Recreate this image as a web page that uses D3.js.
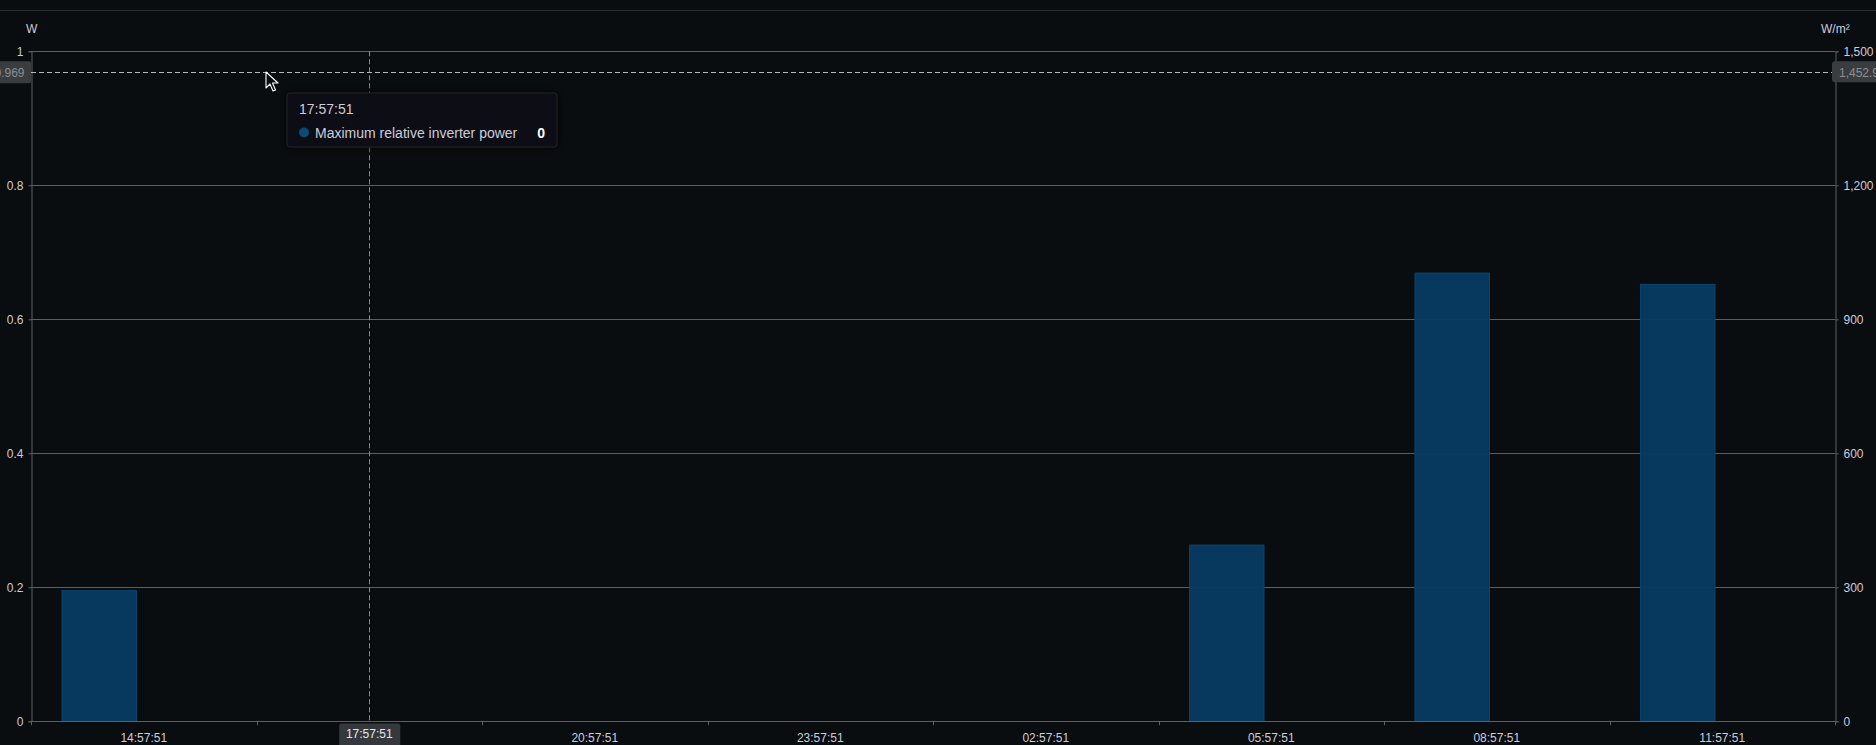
<!DOCTYPE html>
<html>
<head>
<meta charset="utf-8">
<script src="https://cdn.jsdelivr.net/npm/d3@7"></script>
<style>
  html, body { margin: 0; padding: 0; background: #0a0d10; overflow: hidden; }
  svg { display: block; font-family: "Liberation Sans", Arial, Helvetica, sans-serif; }
</style>
</head>
<body>
<svg id="chart" width="1876" height="745"></svg>
<script>
// ---- data ----
const categories = ["14:57:51","17:57:51","20:57:51","23:57:51","02:57:51","05:57:51","08:57:51","11:57:51"];
const seriesNames = ["Maximum relative inverter power", "Irradiance"];
const inverterPower = [0.195, 0, 0, 0, 0, 0.263, 0.669, 0.652];
const leftTicks = [0, 0.2, 0.4, 0.6, 0.8, 1];
const rightTicks = [0, 300, 600, 900, 1200, 1500];
const leftUnit = "W";
const rightUnit = "W/m²";
const hoverCategory = "17:57:51";
const hoverLeftValue = 0.9686;
const tooltipValue = 0;

// ---- layout ----
const W = 1876, H = 745;
const plot = { left: 31, right: 1835, top: 51.3, bottom: 721.3 };
const textColor = "#ccccdc";
const gridColor = "#5c5e62";

const svg = d3.select("#chart");
svg.append("rect").attr("width", W).attr("height", H).attr("fill", "#0a0d10");
// top panel border
svg.append("line").attr("x1", 0).attr("x2", W).attr("y1", 10.5).attr("y2", 10.5)
  .attr("stroke", "#2b2e33").attr("stroke-width", 1);

const x = d3.scaleBand().domain(categories).range([plot.left, plot.right]).padding(0);
const xSub = d3.scaleBand().domain(seriesNames).range([0, x.bandwidth()])
  .paddingInner(0.163).paddingOuter(0.348);
const yL = d3.scaleLinear().domain([0, 1]).range([plot.bottom, plot.top]);
const yR = d3.scaleLinear().domain([0, 1500]).range([plot.bottom, plot.top]);

// gridlines
svg.append("g").selectAll("line").data(leftTicks).join("line")
  .attr("x1", plot.left).attr("x2", plot.right)
  .attr("y1", d => Math.round(yL(d)) + 0.5).attr("y2", d => Math.round(yL(d)) + 0.5)
  .attr("stroke", gridColor).attr("stroke-width", 1);

// bars
svg.append("g").selectAll("rect").data(inverterPower).join("rect")
  .attr("x", (d, i) => x(categories[i]) + xSub(seriesNames[0]))
  .attr("width", xSub.bandwidth())
  .attr("y", d => yL(d))
  .attr("height", d => yL(0) - yL(d))
  .attr("fill", "#073b61")
  .attr("fill-opacity", 0.97)
  .attr("stroke", "#0b4470").attr("stroke-width", 1);

// left axis
const axL = svg.append("g").attr("transform", `translate(${plot.left + 0.5},0)`)
  .call(d3.axisLeft(yL).tickValues(leftTicks).tickSize(3).tickPadding(5)
    .tickFormat(d => d === 0 || d === 1 ? d3.format("d")(d) : d3.format(".1f")(d)));
// right axis
const axR = svg.append("g").attr("transform", `translate(${plot.right + 0.5},0)`)
  .call(d3.axisRight(yR).tickValues(rightTicks).tickSize(3).tickPadding(5)
    .tickFormat(d3.format(",")));
// bottom axis: ticks at band boundaries, labels at band centers
const axB = svg.append("g").attr("transform", `translate(0,${plot.bottom})`)
  .call(d3.axisBottom(x).tickSize(0).tickPadding(12));
const boundaries = categories.map(c => x(c)).concat([plot.right]);
svg.append("g").selectAll("line").data(boundaries).join("line")
  .attr("x1", d => Math.round(d) + 0.5).attr("x2", d => Math.round(d) + 0.5)
  .attr("y1", plot.bottom).attr("y2", plot.bottom + 4)
  .attr("stroke", gridColor);

[axL, axR, axB].forEach(a => {
  a.select(".domain").attr("stroke", gridColor);
  a.selectAll(".tick line").attr("stroke", gridColor);
  a.selectAll(".tick text").attr("fill", textColor).attr("font-size", 12)
    .attr("font-family", "'Liberation Sans', Arial, sans-serif");
});
axB.select(".domain").remove();
// the hovered category label is replaced by the crosshair badge
axB.selectAll(".tick").filter(d => d === hoverCategory).remove();
svg.append("line").attr("x1", plot.left).attr("x2", plot.right)
  .attr("y1", Math.round(plot.bottom) + 0.5).attr("y2", Math.round(plot.bottom) + 0.5)
  .attr("stroke", gridColor);

// unit labels
svg.append("text").attr("x", 26).attr("y", 33).attr("fill", textColor)
  .attr("font-size", 12).text(leftUnit);
svg.append("text").attr("x", 1821).attr("y", 33).attr("fill", textColor)
  .attr("font-size", 12).text(rightUnit);

// crosshair
const cx = x(hoverCategory) + x.bandwidth() / 2;
const cy = yL(hoverLeftValue);
svg.append("line").attr("x1", Math.round(cx) + 0.5).attr("x2", Math.round(cx) + 0.5)
  .attr("y1", plot.top).attr("y2", plot.bottom)
  .attr("stroke", "#8a8c90").attr("stroke-dasharray", "5,3");
svg.append("line").attr("x1", plot.left).attr("x2", plot.right)
  .attr("y1", Math.round(cy) + 0.5).attr("y2", Math.round(cy) + 0.5)
  .attr("stroke", "#b5b7bb").attr("stroke-dasharray", "5,3");

// crosshair value badges
const badgeColor = "#3a3d40";
svg.append("rect").attr("x", -6).attr("y", cy - 11).attr("width", 37).attr("height", 22)
  .attr("rx", 2).attr("fill", badgeColor);
svg.append("text").attr("x", 24.5).attr("y", cy + 4.5).attr("text-anchor", "end")
  .attr("fill", "#8c8e92").attr("font-size", 12).text(d3.format(".3f")(hoverLeftValue));
svg.append("rect").attr("x", 1832).attr("y", cy - 11).attr("width", 60).attr("height", 21)
  .attr("rx", 3).attr("fill", badgeColor);
svg.append("text").attr("x", 1839).attr("y", cy + 4.5)
  .attr("fill", "#8c8e92").attr("font-size", 12)
  .text(d3.format(",.2f")(yR.invert(cy)));

// x badge
svg.append("rect").attr("x", cx - 30).attr("y", 723.5).attr("width", 61).attr("height", 24)
  .attr("rx", 2).attr("fill", "#35383c");
svg.append("text").attr("x", cx).attr("y", 737.5).attr("text-anchor", "middle")
  .attr("fill", "#e6e6ee").attr("font-size", 12).text(hoverCategory);

// tooltip
const defs = svg.append("defs");
const f = defs.append("filter").attr("id", "shadow").attr("x", "-20%").attr("y", "-50%")
  .attr("width", "140%").attr("height", "200%");
f.append("feDropShadow").attr("dx", 0).attr("dy", 0).attr("stdDeviation", 4)
  .attr("flood-color", "#000").attr("flood-opacity", 0.9);
const tt = svg.append("g").attr("transform", "translate(287,93)");
tt.append("rect").attr("width", 270).attr("height", 54).attr("rx", 3)
  .attr("fill", "#0e1013").attr("stroke", "#1f2126").attr("filter", "url(#shadow)");
tt.append("text").attr("x", 12).attr("y", 20.5).attr("fill", textColor)
  .attr("font-size", 14).text(hoverCategory);
tt.append("circle").attr("cx", 17).attr("cy", 39.5).attr("r", 5).attr("fill", "#0b4a77");
tt.append("text").attr("x", 28).attr("y", 44.5).attr("fill", textColor)
  .attr("font-size", 14).text(seriesNames[0]);
tt.append("text").attr("x", 258).attr("y", 44.5).attr("text-anchor", "end")
  .attr("fill", "#ffffff").attr("font-weight", "bold")
  .attr("font-size", 14).text(tooltipValue);

// mouse pointer
svg.append("path")
  .attr("transform", "translate(266,72)")
  .attr("d", "M0,0 L0,16 L4,12 L7,19 L9.5,18 L6.5,11 L12,11 Z")
  .attr("fill", "#0a0d10").attr("stroke", "#ffffff").attr("stroke-width", 1.1)
  .attr("stroke-linejoin", "round");
</script>
</body>
</html>
